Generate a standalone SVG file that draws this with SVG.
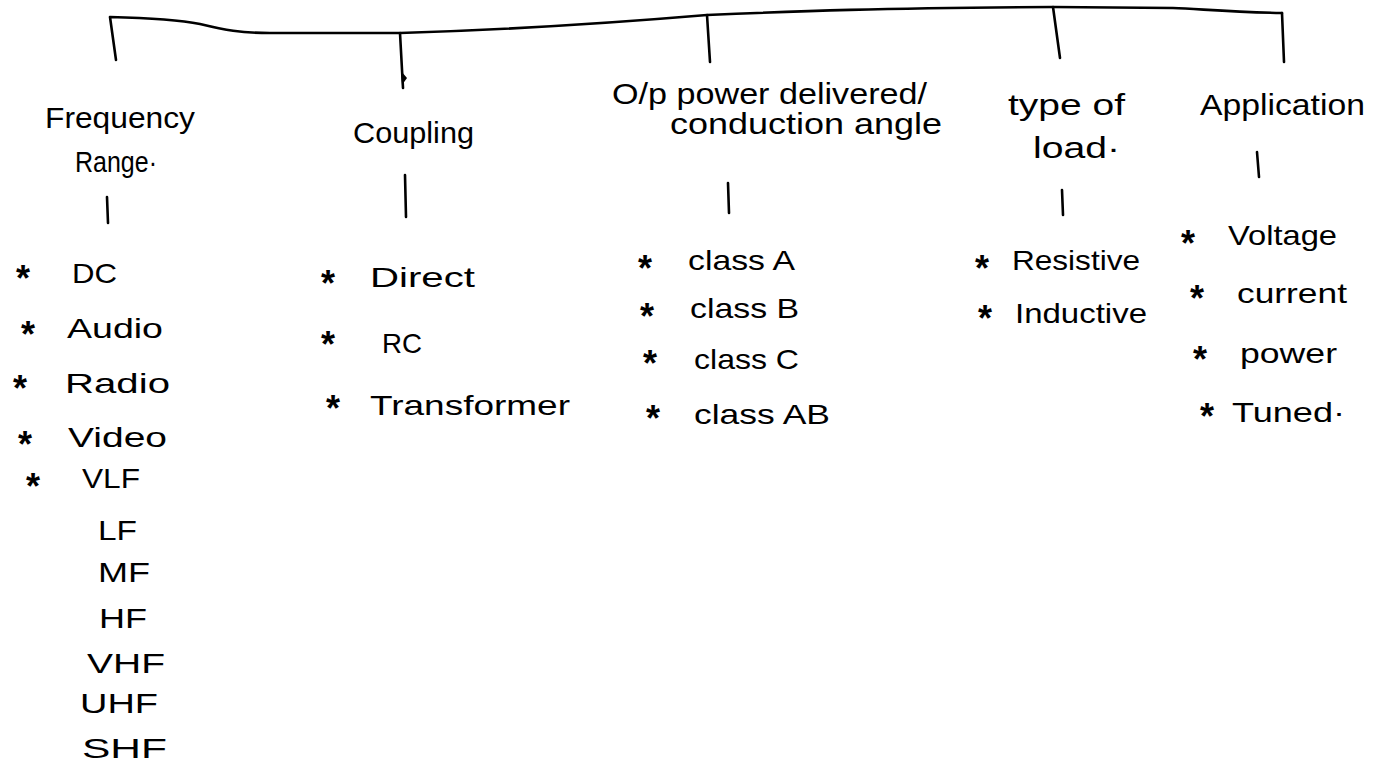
<svg xmlns="http://www.w3.org/2000/svg" width="1379" height="778" viewBox="0 0 1379 778">
  <style>
    .bg { fill: #ffffff; }
    .ln { fill: none; stroke: #000; stroke-width: 2.6; stroke-linecap: round; stroke-linejoin: round; }
    .hd { font-family: "Liberation Sans", Arial, sans-serif; font-size: 30px; fill: #000; }
    .it { font-family: "Liberation Sans", Arial, sans-serif; font-size: 28px; fill: #000; }
    .st { font-family: "Liberation Sans", Arial, sans-serif; font-size: 36px; font-weight: bold; fill: #000; text-anchor: middle; }
  </style>
  <rect class="bg" x="0" y="0" width="1379" height="778"/>

  <!-- connectors: top brace and the branch stubs -->
  <g id="connectors">
    <path class="ln" d="M 116 60 L 110 17 C 150 18 180 20 200 24 C 225 30 240 33 270 33 L 400 33 C 500 30 600 24 707 15 C 800 11 880 8 1053 7 L 1173 8 C 1200 9 1230 12 1282 13"/>
    <path class="ln" d="M 400 33 L 403 88"/>
    <path d="M 401 71 L 407 78 L 402 85 Z" fill="#000"/>
    <path class="ln" d="M 707 15 L 710 62"/>
    <path class="ln" d="M 1053 7 L 1060 58"/>
    <path class="ln" d="M 1282 13 L 1284 62"/>
    <path class="ln" d="M 107 197 L 108 223"/>
    <path class="ln" d="M 405 175 L 406 217"/>
    <path class="ln" d="M 728 183 L 729 213"/>
    <path class="ln" d="M 1062 190 L 1063 215"/>
    <path class="ln" d="M 1257 152 L 1259 177"/>
  </g>

  <!-- Frequency Range -->
  <g id="frequency">
    <text class="hd" x="45" y="128" textLength="150" lengthAdjust="spacingAndGlyphs">Frequency</text>
    <text class="hd" x="75" y="172" textLength="82" lengthAdjust="spacingAndGlyphs">Range·</text>
    <text class="st" x="23" y="291">*</text><text class="it" x="72" y="283" textLength="45" lengthAdjust="spacingAndGlyphs">DC</text>
    <text class="st" x="28" y="347">*</text><text class="it" x="67" y="338" textLength="96" lengthAdjust="spacingAndGlyphs">Audio</text>
    <text class="st" x="20" y="401">*</text><text class="it" x="65" y="393" textLength="105" lengthAdjust="spacingAndGlyphs">Radio</text>
    <text class="st" x="25" y="457">*</text><text class="it" x="68" y="447" textLength="99" lengthAdjust="spacingAndGlyphs">Video</text>
    <text class="st" x="33" y="499">*</text><text class="it" x="82" y="488" textLength="58" lengthAdjust="spacingAndGlyphs">VLF</text>
    <text class="it" x="98" y="540" textLength="39" lengthAdjust="spacingAndGlyphs">LF</text>
    <text class="it" x="98" y="582" textLength="52" lengthAdjust="spacingAndGlyphs">MF</text>
    <text class="it" x="99" y="628" textLength="48" lengthAdjust="spacingAndGlyphs">HF</text>
    <text class="it" x="87" y="673" textLength="78" lengthAdjust="spacingAndGlyphs">VHF</text>
    <text class="it" x="80" y="713" textLength="78" lengthAdjust="spacingAndGlyphs">UHF</text>
    <text class="it" x="82" y="758" textLength="85" lengthAdjust="spacingAndGlyphs">SHF</text>
  </g>

  <!-- Coupling -->
  <g id="coupling">
    <text class="hd" x="353" y="143" textLength="121" lengthAdjust="spacingAndGlyphs">Coupling</text>
    <text class="st" x="328" y="296">*</text><text class="it" x="370" y="287" textLength="105" lengthAdjust="spacingAndGlyphs">Direct</text>
    <text class="st" x="328" y="357">*</text><text class="it" x="382" y="353" textLength="40" lengthAdjust="spacingAndGlyphs">RC</text>
    <text class="st" x="333" y="421">*</text><text class="it" x="370" y="415" textLength="200" lengthAdjust="spacingAndGlyphs">Transformer</text>
  </g>

  <!-- O/p power delivered / conduction angle -->
  <g id="output-power">
    <text class="hd" x="612" y="104" textLength="315" lengthAdjust="spacingAndGlyphs">O/p power delivered/</text>
    <text class="hd" x="670" y="134" textLength="272" lengthAdjust="spacingAndGlyphs">conduction angle</text>
    <text class="st" x="645" y="281">*</text><text class="it" x="688" y="270" textLength="107" lengthAdjust="spacingAndGlyphs">class A</text>
    <text class="st" x="647" y="329">*</text><text class="it" x="690" y="318" textLength="109" lengthAdjust="spacingAndGlyphs">class B</text>
    <text class="st" x="650" y="376">*</text><text class="it" x="694" y="369" textLength="105" lengthAdjust="spacingAndGlyphs">class C</text>
    <text class="st" x="653" y="431">*</text><text class="it" x="694" y="424" textLength="136" lengthAdjust="spacingAndGlyphs">class AB</text>
  </g>

  <!-- type of load -->
  <g id="load-type">
    <text class="hd" x="1008" y="115" textLength="117" lengthAdjust="spacingAndGlyphs">type of</text>
    <text class="hd" x="1033" y="158" textLength="87" lengthAdjust="spacingAndGlyphs">load·</text>
    <text class="st" x="982" y="281">*</text><text class="it" x="1012" y="270" textLength="128" lengthAdjust="spacingAndGlyphs">Resistive</text>
    <text class="st" x="985" y="331">*</text><text class="it" x="1015" y="323" textLength="132" lengthAdjust="spacingAndGlyphs">Inductive</text>
  </g>

  <!-- Application -->
  <g id="application">
    <text class="hd" x="1200" y="115" textLength="165" lengthAdjust="spacingAndGlyphs">Application</text>
    <text class="st" x="1188" y="256">*</text><text class="it" x="1228" y="245" textLength="109" lengthAdjust="spacingAndGlyphs">Voltage</text>
    <text class="st" x="1197" y="311">*</text><text class="it" x="1237" y="303" textLength="110" lengthAdjust="spacingAndGlyphs">current</text>
    <text class="st" x="1200" y="372">*</text><text class="it" x="1240" y="363" textLength="97" lengthAdjust="spacingAndGlyphs">power</text>
    <text class="st" x="1207" y="429">*</text><text class="it" x="1232" y="422" textLength="113" lengthAdjust="spacingAndGlyphs">Tuned·</text>
  </g>
</svg>
